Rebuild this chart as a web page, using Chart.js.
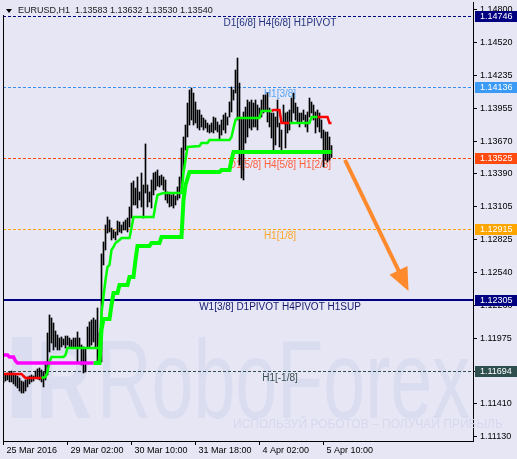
<!DOCTYPE html>
<html><head><meta charset="utf-8">
<script src="https://cdn.jsdelivr.net/npm/chart.js@4"></script>
<style>html,body{margin:0;padding:0;background:#e6e6f5;}canvas{display:block}</style>
</head><body>
<canvas id="c" width="517" height="459"></canvas>
<script>
// ---------- DATA ----------
const symbolTitle = 'EURUSD,H1';
const lastOHLC = [1.13583, 1.13632, 1.13530, 1.13540];

const barHigh = [
1.11659,1.11668,1.11676,1.11685,1.11693,1.11676,1.11659,1.11650,1.11633,1.11607,
1.11599,1.11616,1.11642,1.11650,1.11659,1.11650,1.11693,1.11711,1.11719,1.11702,
1.11685,1.11771,1.12020,1.12175,1.12149,1.12106,1.12037,1.12003,1.11977,1.11986,
1.11969,1.11994,1.11994,1.11977,1.11960,1.11977,1.11977,1.12029,1.11977,1.11917,
1.11900,1.11891,1.12072,1.12115,1.12132,1.12149,1.12132,1.12235,1.12020,1.12700,
1.12803,1.12949,1.13018,1.12992,1.12923,1.12906,1.12889,1.12983,1.12975,1.12949,
1.12975,1.12992,1.13009,1.13104,1.13310,1.13327,1.13267,1.13362,1.13233,1.13396,
1.13293,1.13646,1.13293,1.13233,1.13336,1.13396,1.13405,1.13422,1.13370,1.13379,
1.13362,1.13336,1.13233,1.13224,1.13207,1.13224,1.13198,1.13276,1.13362,1.13611,
1.13706,1.13809,1.13998,1.14110,1.14127,1.14084,1.14007,1.13938,1.13938,1.13895,
1.13869,1.13852,1.13826,1.13809,1.13826,1.13878,1.13869,1.13835,1.13809,1.13852,
1.13895,1.13912,1.13878,1.14007,1.14136,1.14110,1.14282,1.14385,1.14170,1.13869,
1.13921,1.13963,1.14024,1.14007,1.14024,1.13998,1.14024,1.13981,1.13955,1.14024,
1.14067,1.14067,1.14084,1.13955,1.13912,1.13912,1.13878,1.14024,1.13826,1.13766,
1.13981,1.13912,1.13921,1.13938,1.14041,1.14084,1.13998,1.13963,1.13912,1.13912,
1.13938,1.13895,1.13921,1.14041,1.14007,1.13981,1.13921,1.13938,1.13912,1.13852,
1.13766,1.13749,1.13749,1.13706,1.13632];

const barLow = [
1.11590,1.11607,1.11616,1.11599,1.11599,1.11582,1.11564,1.11547,1.11521,1.11504,
1.11504,1.11521,1.11556,1.11582,1.11599,1.11607,1.11633,1.11625,1.11616,1.11599,
1.11556,1.11616,1.11659,1.11857,1.11934,1.11874,1.11900,1.11874,1.11874,1.11900,
1.11917,1.11891,1.11917,1.11891,1.11891,1.11891,1.11891,1.11771,1.11891,1.11745,
1.11676,1.11685,1.11891,1.11891,1.11917,1.11943,1.11891,1.11771,1.11762,1.11771,
1.12605,1.12734,1.12880,1.12889,1.12820,1.12837,1.12820,1.12863,1.12889,1.12880,
1.12906,1.12906,1.12889,1.12932,1.13009,1.13121,1.13121,1.13095,1.13164,1.13104,
1.13009,1.13224,1.13104,1.13147,1.13095,1.13207,1.13250,1.13284,1.13276,1.13293,
1.13250,1.13164,1.13138,1.13104,1.13112,1.13095,1.13121,1.13164,1.13181,1.13267,
1.13422,1.13594,1.13706,1.13809,1.13852,1.13809,1.13826,1.13783,1.13766,1.13792,
1.13766,1.13783,1.13749,1.13740,1.13749,1.13740,1.13766,1.13749,1.13680,1.13723,
1.13766,1.13740,1.13809,1.13878,1.13921,1.14024,1.14084,1.13852,1.13465,1.13353,
1.13336,1.13654,1.13706,1.13783,1.13766,1.13792,1.13792,1.13766,1.13878,1.13878,
1.13912,1.13938,1.13835,1.13792,1.13697,1.13577,1.13637,1.13792,1.13620,1.13568,
1.13826,1.13611,1.13740,1.13766,1.13835,1.13912,1.13852,1.13835,1.13792,1.13826,
1.13852,1.13792,1.13749,1.13878,1.13912,1.13852,1.13740,1.13792,1.13749,1.13697,
1.13448,1.13508,1.13491,1.13508,1.13530];

const xTickIndex  = [0, 32, 64, 96, 128, 160];
const xTickLabels = ['25 Mar 2016', '29 Mar 02:00', '30 Mar 10:00', '31 Mar 18:00', '4 Apr 02:00', '5 Apr 10:00'];
const yTickValues = [1.14800, 1.14520, 1.14235, 1.13955, 1.13670, 1.13390, 1.13105, 1.12825, 1.12540, 1.12260, 1.11975, 1.11690, 1.11410, 1.11130];

const levelValues = [1.14746, 1.14136, 1.13525, 1.12915, 1.12305, 1.11694];
const levelNames  = ['D1[6/8] H4[6/8] H1PIVOT', 'H1[3/8]', 'D1[5/8] H4[5/8] H1[2/8]', 'H1[1/8]', 'W1[3/8] D1PIVOT H4PIVOT H1SUP', 'H1[-1/8]'];

// indicator lines as [bar index, price]
const thinRedSegments = [
  [[0,1.11668],[9,1.11668],[10,1.11650],[11,1.11633],[19,1.11633]],
  [[118,1.13869],[119,1.13869]],
  [[134,1.13930],[135,1.13938],[138,1.13938],[139,1.13826],[143,1.13826]],
  [[157,1.13878],[162,1.13878],[163,1.13826],[164,1.13826]]
];
const thinGreenSegments = [
  [[19,1.11633],[21,1.11642],[22,1.11685],[23,1.11771],[24,1.11814],[30,1.11814],[31,1.11831],[32,1.11891],[48,1.11891],
   [49,1.12192],[51,1.12476],[52,1.12588],[53,1.12605],[54,1.12734],[55,1.12760],[56,1.12794],[58,1.12820],[59,1.12837],[63,1.12837],
   [64,1.12923],[65,1.13018],[75,1.13018],[76,1.13121],[77,1.13207],[80,1.13224],[89,1.13224],[90,1.13396],[91,1.13508],[92,1.13620],
   [98,1.13628],[99,1.13654],[102,1.13654],[103,1.13680],[113,1.13680],[114,1.13706],[115,1.13783],[116,1.13852],[117,1.13869],
   [128,1.13869],[129,1.13930],[134,1.13930]],
  [[143,1.13826],[153,1.13826],[154,1.13878],[157,1.13878]]
];
const thickMagenta = [[0,1.11831],[2,1.11831],[3,1.11814],[5,1.11814],[6,1.11779],[7,1.11762],[45,1.11762]];
const thickGreen = [[45,1.11762],[48,1.11762],[49,1.12046],[50,1.12141],[53,1.12141],[54,1.12261],[55,1.12364],[57,1.12364],
  [58,1.12433],[62,1.12433],[63,1.12502],[65,1.12502],[66,1.12648],[67,1.12768],[73,1.12768],[74,1.12794],[78,1.12794],
  [79,1.12846],[89,1.12846],[90,1.13164],[91,1.13293],[93,1.13405],[108,1.13405],[109,1.13422],[113,1.13422],[114,1.13508],
  [115,1.13577],[164,1.13577]];

const arrowFrom = [170.75, 1.13508];
const arrowTo   = [202.5, 1.12381];

// ---------- STYLES ----------
const BG = '#e6e6f5';
const FONT = '"Liberation Sans", Arial, sans-serif';
const levelStyles = [
  {line:'#000080', dash:[3,2], width:1, text:'#26357f', box:'#000080'},
  {line:'#3a8ef0', dash:[3,2], width:1, text:'#55a5f5', box:'#3a9af5'},
  {line:'#ff4500', dash:[3,2], width:1, text:'#ff6040', box:'#ff4a10'},
  {line:'#ffa500', dash:[3,2], width:1, text:'#ffa726', box:'#ffa500'},
  {line:'#000080', dash:[],    width:2, text:'#141a6e', box:'#000080'},
  {line:'#2f4f4f', dash:[3,2], width:1, text:'#3a5050', box:'#2f4f4f'}
];
const levelTextAnchor = 138.25;

// ---------- CHART ----------
const toPts = a => a.map(p => ({x:p[0], y:p[1]}));
const lineDs = (pts, color, w) => ({type:'line', data:toPts(pts), borderColor:color, borderWidth:w,
  pointRadius:0, fill:false, tension:0, order:1, borderCapStyle:'butt', borderJoinStyle:'miter'});

const datasets = [{
  type:'bar', data: barHigh.map((h,i)=>({x:i, y:[barLow[i], h]})),
  backgroundColor:'#000', borderWidth:0, barThickness:1, order:10
}];
datasets.push(lineDs(thickMagenta, '#ff00ff', 3.5));
datasets.push(lineDs(thickGreen, '#00ff00', 4));
thinGreenSegments.forEach(s => datasets.push(lineDs(s, '#00ff00', 2.5)));
thinRedSegments.forEach(s => datasets.push(lineDs(s, '#ff0000', 2.5)));

const overlay = {
  id:'mt4',
  beforeDraw(chart){
    const c = chart.ctx; c.save(); c.fillStyle = BG; c.fillRect(0,0,chart.width,chart.height); c.restore();
  },
  beforeDatasetsDraw(chart){
    const c = chart.ctx, a = chart.chartArea, xs = chart.scales.x, ys = chart.scales.y;
    // watermark
    c.save();
    c.fillStyle = '#dadcf0';
    c.fillRect(12, 337, 20, 81);
    c.font = 'bold 112px ' + FONT; c.textBaseline = 'alphabetic';
    let w = c.measureText('R').width;
    c.save(); c.translate(36, 418); c.scale(56 / w, 1); c.fillText('R', 0, 0); c.restore();
    c.font = '112px ' + FONT;
    w = c.measureText('RoboForex').width;
    c.save(); c.translate(97, 418); c.scale(373 / w, 1); c.fillText('RoboForex', 0, 0); c.restore();
    c.font = '12px ' + FONT; c.fillStyle = '#d6d8ed'; c.textBaseline = 'middle';
    c.fillText('ИСПОЛЬЗУЙ РОБОТОВ – ПОЛУЧАЙ ПРИБЫЛЬ', 233, 425);
    c.restore();
    // level lines + texts
    c.save();
    levelValues.forEach((v,k) => {
      const st = levelStyles[k]; const y = Math.round(ys.getPixelForValue(v)) + (st.width % 2 ? 0.5 : 0);
      c.beginPath(); c.setLineDash(st.dash); c.lineWidth = st.width; c.strokeStyle = st.line;
      c.moveTo(a.left, y); c.lineTo(a.right, y); c.stroke();
    });
    c.setLineDash([]);
    c.font = '10px ' + FONT; c.textAlign = 'center'; c.textBaseline = 'top';
    const tx = xs.getPixelForValue(levelTextAnchor);
    levelValues.forEach((v,k) => {
      c.fillStyle = levelStyles[k].text;
      c.fillText(levelNames[k], tx, ys.getPixelForValue(v) + 2);
    });
    c.restore();
  },
  afterDatasetsDraw(chart){
    const c = chart.ctx, xs = chart.scales.x, ys = chart.scales.y;
    const x1 = xs.getPixelForValue(arrowFrom[0]), y1 = ys.getPixelForValue(arrowFrom[1]);
    const x2 = xs.getPixelForValue(arrowTo[0]), y2 = ys.getPixelForValue(arrowTo[1]);
    const L = Math.hypot(x2-x1, y2-y1), ux = (x2-x1)/L, uy = (y2-y1)/L;
    const bx = x2 - ux*23, by = y2 - uy*23;
    c.save(); c.strokeStyle = '#ff8a2e'; c.fillStyle = '#ff8a2e'; c.lineWidth = 4;
    c.beginPath(); c.moveTo(x1,y1); c.lineTo(bx+ux*3, by+uy*3); c.stroke();
    c.beginPath(); c.moveTo(x2,y2); c.lineTo(bx - uy*10, by + ux*10); c.lineTo(bx + uy*10, by - ux*10); c.closePath(); c.fill();
    c.restore();
  },
  afterDraw(chart){
    const c = chart.ctx, a = chart.chartArea, ys = chart.scales.y;
    c.save();
    // price boxes
    c.font = '9px ' + FONT; c.textBaseline = 'middle'; c.textAlign = 'left';
    levelValues.forEach((v,k) => {
      const y = Math.round(ys.getPixelForValue(v));
      c.fillStyle = levelStyles[k].box; c.fillRect(475, y-5, chart.width-475, 11);
      c.fillStyle = '#ffffff'; c.fillText(v.toFixed(5), 480, y+0.5);
    });
    // left border
    c.strokeStyle = '#000'; c.lineWidth = 1;
    c.beginPath(); c.moveTo(a.left+0.5, 15); c.lineTo(a.left+0.5, a.bottom); c.stroke();
    // header
    c.fillStyle = '#000';
    c.beginPath(); c.moveTo(6,9); c.lineTo(12,9); c.lineTo(9,13); c.closePath(); c.fill();
    c.fillStyle = '#1a1a1a'; c.font = '9px ' + FONT; c.textBaseline = 'middle';
    c.fillText(symbolTitle + '  ' + lastOHLC.map(v=>v.toFixed(5)).join(' '), 18, 11);
    c.restore();
  }
};

new Chart(document.getElementById('c'), {
  type:'bar',
  data:{datasets},
  options:{
    responsive:false, animation:false, devicePixelRatio:1,
    layout:{padding:{left:3, top:2, right:0, bottom:0}},
    plugins:{legend:{display:false}, tooltip:{enabled:false}, title:{display:false}},
    scales:{
      x:{type:'linear', min:-0.25, max:234.75, offset:false,
        afterBuildTicks: s => { s.ticks = xTickIndex.map(v=>({value:v})); },
        afterFit: s => { s.height = 18; s.paddingLeft = 0; s.paddingRight = 0; },
        grid:{drawOnChartArea:false, drawTicks:true, tickLength:4, color:'#000', offset:false},
        border:{display:true, color:'#000', width:1},
        ticks:{autoSkip:false, maxRotation:0, minRotation:0, align:'start', labelOffset:3, padding:0,
          color:'#000', font:{family:FONT, size:9},
          callback: v => xTickLabels[xTickIndex.indexOf(v)]}
      },
      y:{position:'right', min:1.11091, max:1.14867,
        afterBuildTicks: s => { s.ticks = yTickValues.map(v=>({value:v})); },
        afterFit: s => { s.width = 44; s.paddingTop = 0; s.paddingBottom = 0; },
        grid:{drawOnChartArea:false, drawTicks:true, tickLength:4, color:'#000'},
        border:{display:true, color:'#000', width:1},
        ticks:{autoSkip:false, padding:3, color:'#000', font:{family:FONT, size:9},
          callback: v => Number(v).toFixed(5)}
      }
    }
  },
  plugins:[overlay]
});
</script>
</body></html>
